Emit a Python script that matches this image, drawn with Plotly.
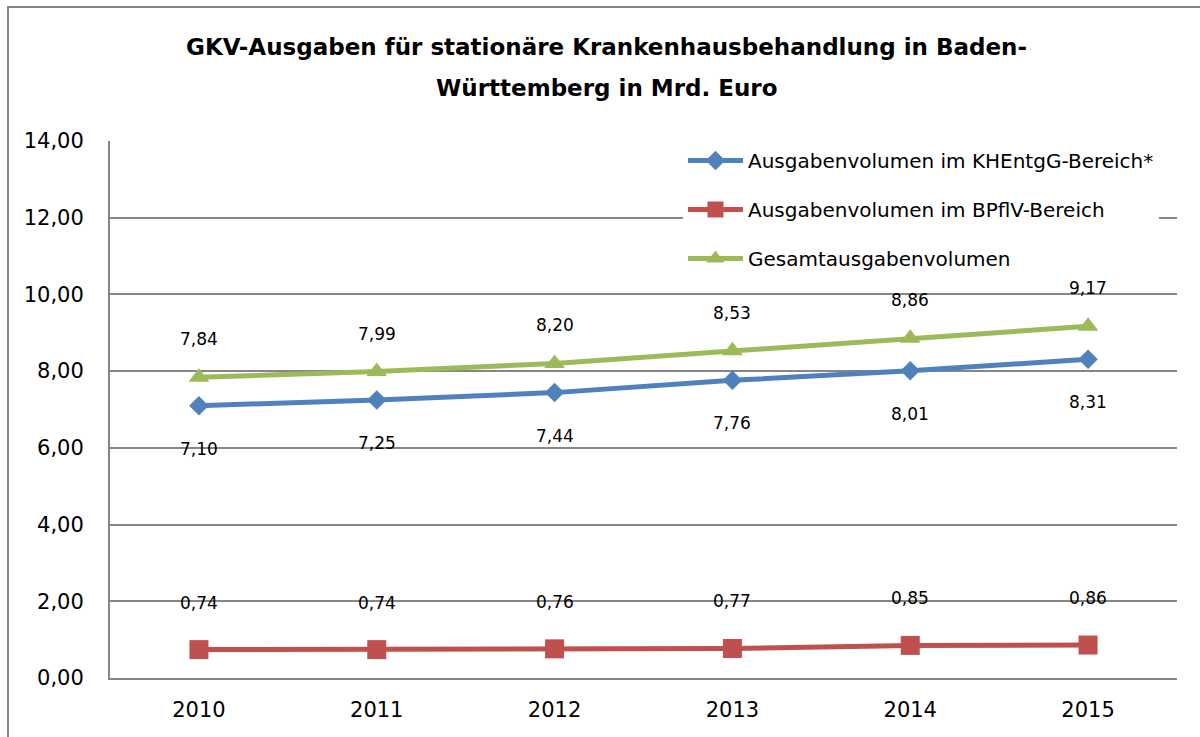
import plotly.graph_objects as go

years = ["2010", "2011", "2012", "2013", "2014", "2015"]
khentgg = [7.10, 7.25, 7.44, 7.76, 8.01, 8.31]
bpflv = [0.74, 0.74, 0.76, 0.77, 0.85, 0.86]
gesamt = [7.84, 7.99, 8.20, 8.53, 8.86, 9.17]

names = ["Ausgabenvolumen im KHEntgG-Bereich*",
         "Ausgabenvolumen im BPflV-Bereich",
         "Gesamtausgabenvolumen"]
title_lines = ["GKV-Ausgaben für stationäre Krankenhausbehandlung in Baden-",
               "Württemberg in Mrd. Euro"]

FONT = "DejaVu Sans"
series = [
    (names[0], khentgg, "#4F81BD", "diamond", 15, -43),
    (names[1], bpflv, "#C0504D", "square", 19, 47),
    (names[2], gesamt, "#9BBB59", "triangle-up", 18, 38),
]

fig = go.Figure()
annotations = []
for i, (name, vals, color, sym, msize, shift) in enumerate(series):
    fig.add_trace(go.Scatter(
        x=years, y=vals, name=name, mode="lines+markers",
        line=dict(color=color, width=5),
        marker=dict(symbol=sym, size=msize, color=color),
        legendgroup=f"g{i}",
    ))
    for xi, yv in enumerate(vals):
        annotations.append(dict(
            x=xi, y=yv, xref="x", yref="y", text=f"{yv:.2f}".replace(".", ","),
            showarrow=False, yshift=shift, font=dict(family=FONT, size=17, color="black")))

annotations.append(dict(x=0.465, y=1.175, xref="paper", yref="paper", text=f"<b>{title_lines[0]}</b>",
                        showarrow=False, font=dict(family=FONT, size=23, color="black"),
                        xanchor="center", yanchor="middle"))
annotations.append(dict(x=0.465, y=1.0987, xref="paper", yref="paper", text=f"<b>{title_lines[1]}</b>",
                        showarrow=False, font=dict(family=FONT, size=23, color="black"),
                        xanchor="center", yanchor="middle"))

fig.update_layout(
    width=1200, height=737,
    margin=dict(l=110, r=23, t=141, b=59),
    paper_bgcolor="white", plot_bgcolor="white",
    separators=",.",
    font=dict(family=FONT, size=20, color="black"),
    annotations=annotations,
    showlegend=True,
    legend=dict(x=0.537, y=1, xanchor="left", yanchor="top", bgcolor="white",
                font=dict(family=FONT, size=20, color="black"),
                itemwidth=55,
                tracegroupgap=20, traceorder="grouped"),
    shapes=[dict(type="rect", xref="paper", yref="paper",
                 x0=-0.0956, y0=-0.2, x1=1.05, y1=1.2495,
                 line=dict(color="#868686", width=2), layer="below")],
)
fig.update_xaxes(type="category", range=[-0.5, 5.5], showgrid=False,
                 showline=True, linecolor="#868686", linewidth=2,
                 ticks="", ticklabelstandoff=12,
                 tickfont=dict(family=FONT, size=21, color="black"))
fig.update_yaxes(range=[0, 14], dtick=2, tickformat=".2f", showgrid=True,
                 gridcolor="#868686", gridwidth=1.5, zeroline=False,
                 showline=True, linecolor="#868686", linewidth=2,
                 ticks="", ticklabelstandoff=20,
                 tickfont=dict(family=FONT, size=21, color="black"))

fig.write_html("out.html", config={"displayModeBar": False},
               post_script="document.body.style.margin='0px';")
